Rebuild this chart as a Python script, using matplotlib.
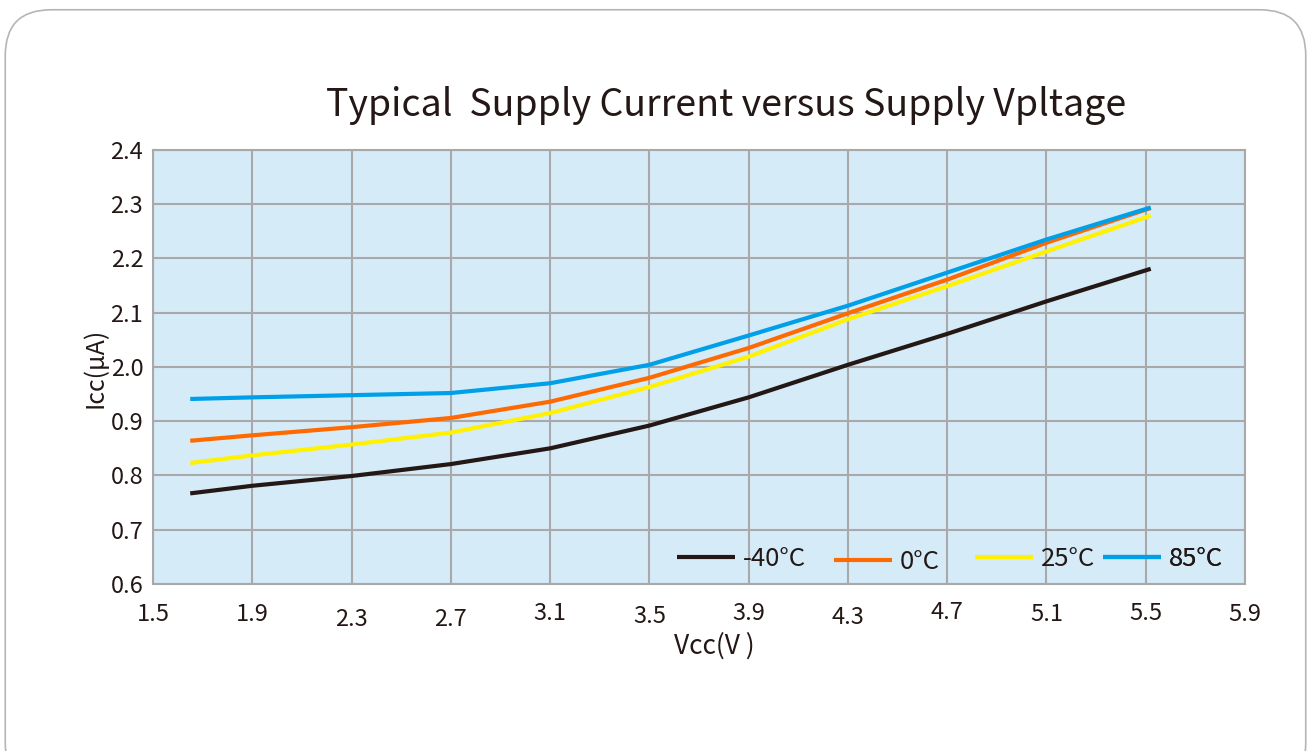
import matplotlib
matplotlib.use("Agg")
import matplotlib.pyplot as plt
from matplotlib.patches import FancyBboxPatch

plt.rcParams['font.family'] = ['Noto Sans CJK SC', 'DejaVu Sans']

# supply voltage (V)
vcc = [1.65, 1.9, 2.3, 2.7, 3.1, 3.5, 3.9, 4.3, 4.7, 5.1, 5.52]

# Icc in axis position units (axis runs 0.6 .. 1.4, labels as printed on the original)
icc_m40 = [0.767, 0.781, 0.799, 0.821, 0.850, 0.892, 0.944, 1.004, 1.061, 1.121, 1.181]
icc_0 = [0.864, 0.874, 0.889, 0.906, 0.936, 0.980, 1.035, 1.099, 1.161, 1.229, 1.293]
icc_25 = [0.823, 0.837, 0.857, 0.879, 0.915, 0.963, 1.019, 1.088, 1.149, 1.213, 1.279]
icc_85 = [0.941, 0.944, 0.948, 0.952, 0.970, 1.004, 1.058, 1.113, 1.174, 1.235, 1.294]

series_labels = ["-40°C", "0°C", "25°C", "85°C"]
series_colors = ["#231815", "#ff6a00", "#fff100", "#00a0e9"]

xticks = [1.5, 1.9, 2.3, 2.7, 3.1, 3.5, 3.9, 4.3, 4.7, 5.1, 5.5, 5.9]
xtick_labels = ["1.5", "1.9", "2.3", "2.7", "3.1", "3.5", "3.9", "4.3", "4.7", "5.1", "5.5", "5.9"]
yticks = [0.6, 0.7, 0.8, 0.9, 1.0, 1.1, 1.2, 1.3, 1.4]
ytick_labels = ["0.6", "0.7", "0.8", "0.9", "2.0", "2.1", "2.2", "2.3", "2.4"]

fig = plt.figure(figsize=(13.11, 7.51), dpi=100)

# rounded frame round the whole picture
frame = FancyBboxPatch((0.004, -0.05), 0.992, 1.037,
                       boxstyle="round,pad=0,rounding_size=0.035",
                       transform=fig.transFigure, facecolor="white",
                       edgecolor="#b5b5b5", linewidth=1.2, zorder=-5,
                       mutation_aspect=1311 / 751)
fig.patches.append(frame)

ax = fig.add_axes([0.1167, 0.2224, 0.8330, 0.5779])
ax.set_facecolor("#d5ebf8")

lines = []
for y, lab, col in zip([icc_m40, icc_0, icc_25, icc_85], series_labels, series_colors):
    ln, = ax.plot(vcc, y, color=col, lw=3, label=lab, solid_capstyle="butt",
                  solid_joinstyle="round", zorder=3)
    lines.append(ln)

ax.set_xlim(1.5, 5.9)
ax.set_ylim(0.6, 1.4)
ax.set_xticks(xticks)
ax.set_xticklabels(xtick_labels, fontsize=17, color="#231815")
ax.set_yticks(yticks)
ax.set_yticklabels(ytick_labels, fontsize=17, color="#231815")
ax.tick_params(length=0)
ax.tick_params(axis="y", pad=7)

# the printed x labels sit a little up and down
shifts = [0, 0, 3, 3, -1, 1, -1, 2, -2, 0, -1, 0]
for t, s in zip(ax.xaxis.get_major_ticks(), shifts):
    t.set_pad(14 + s)

ax.grid(True, color="#a9a9a9", lw=1.5, zorder=1)
ax.set_axisbelow(True)
for sp in ax.spines.values():
    sp.set_color("#a9a9a9")
    sp.set_linewidth(1.5)

# one small legend per series, spaced like the original
leg_x = [0.480, 0.624, 0.753, 0.870]
leg_dy = [0, -0.006, 0, 0]
for ln, lx, dy in zip(lines, leg_x, leg_dy):
    lg = ax.legend([ln], [ln.get_label()], loc="center left",
                   bbox_to_anchor=(lx, 0.057 + dy), frameon=False,
                   fontsize=18.5, handlelength=2.25, handletextpad=0.3,
                   borderpad=0, borderaxespad=0)
    for t in lg.get_texts():
        t.set_color("#231815")
    ax.add_artist(lg)

fig.text(0.554, 0.860, "Typical  Supply Current versus Supply Vpltage",
         ha="center", va="center", fontsize=27, color="#231815")
fig.text(0.073, 0.51, "Icc(µA)", rotation=90, ha="center", va="center",
         fontsize=18, color="#231815")
fig.text(0.545, 0.140, "Vcc(V )", ha="center", va="center",
         fontsize=19, color="#231815")

fig.savefig("out.png", dpi=100)
